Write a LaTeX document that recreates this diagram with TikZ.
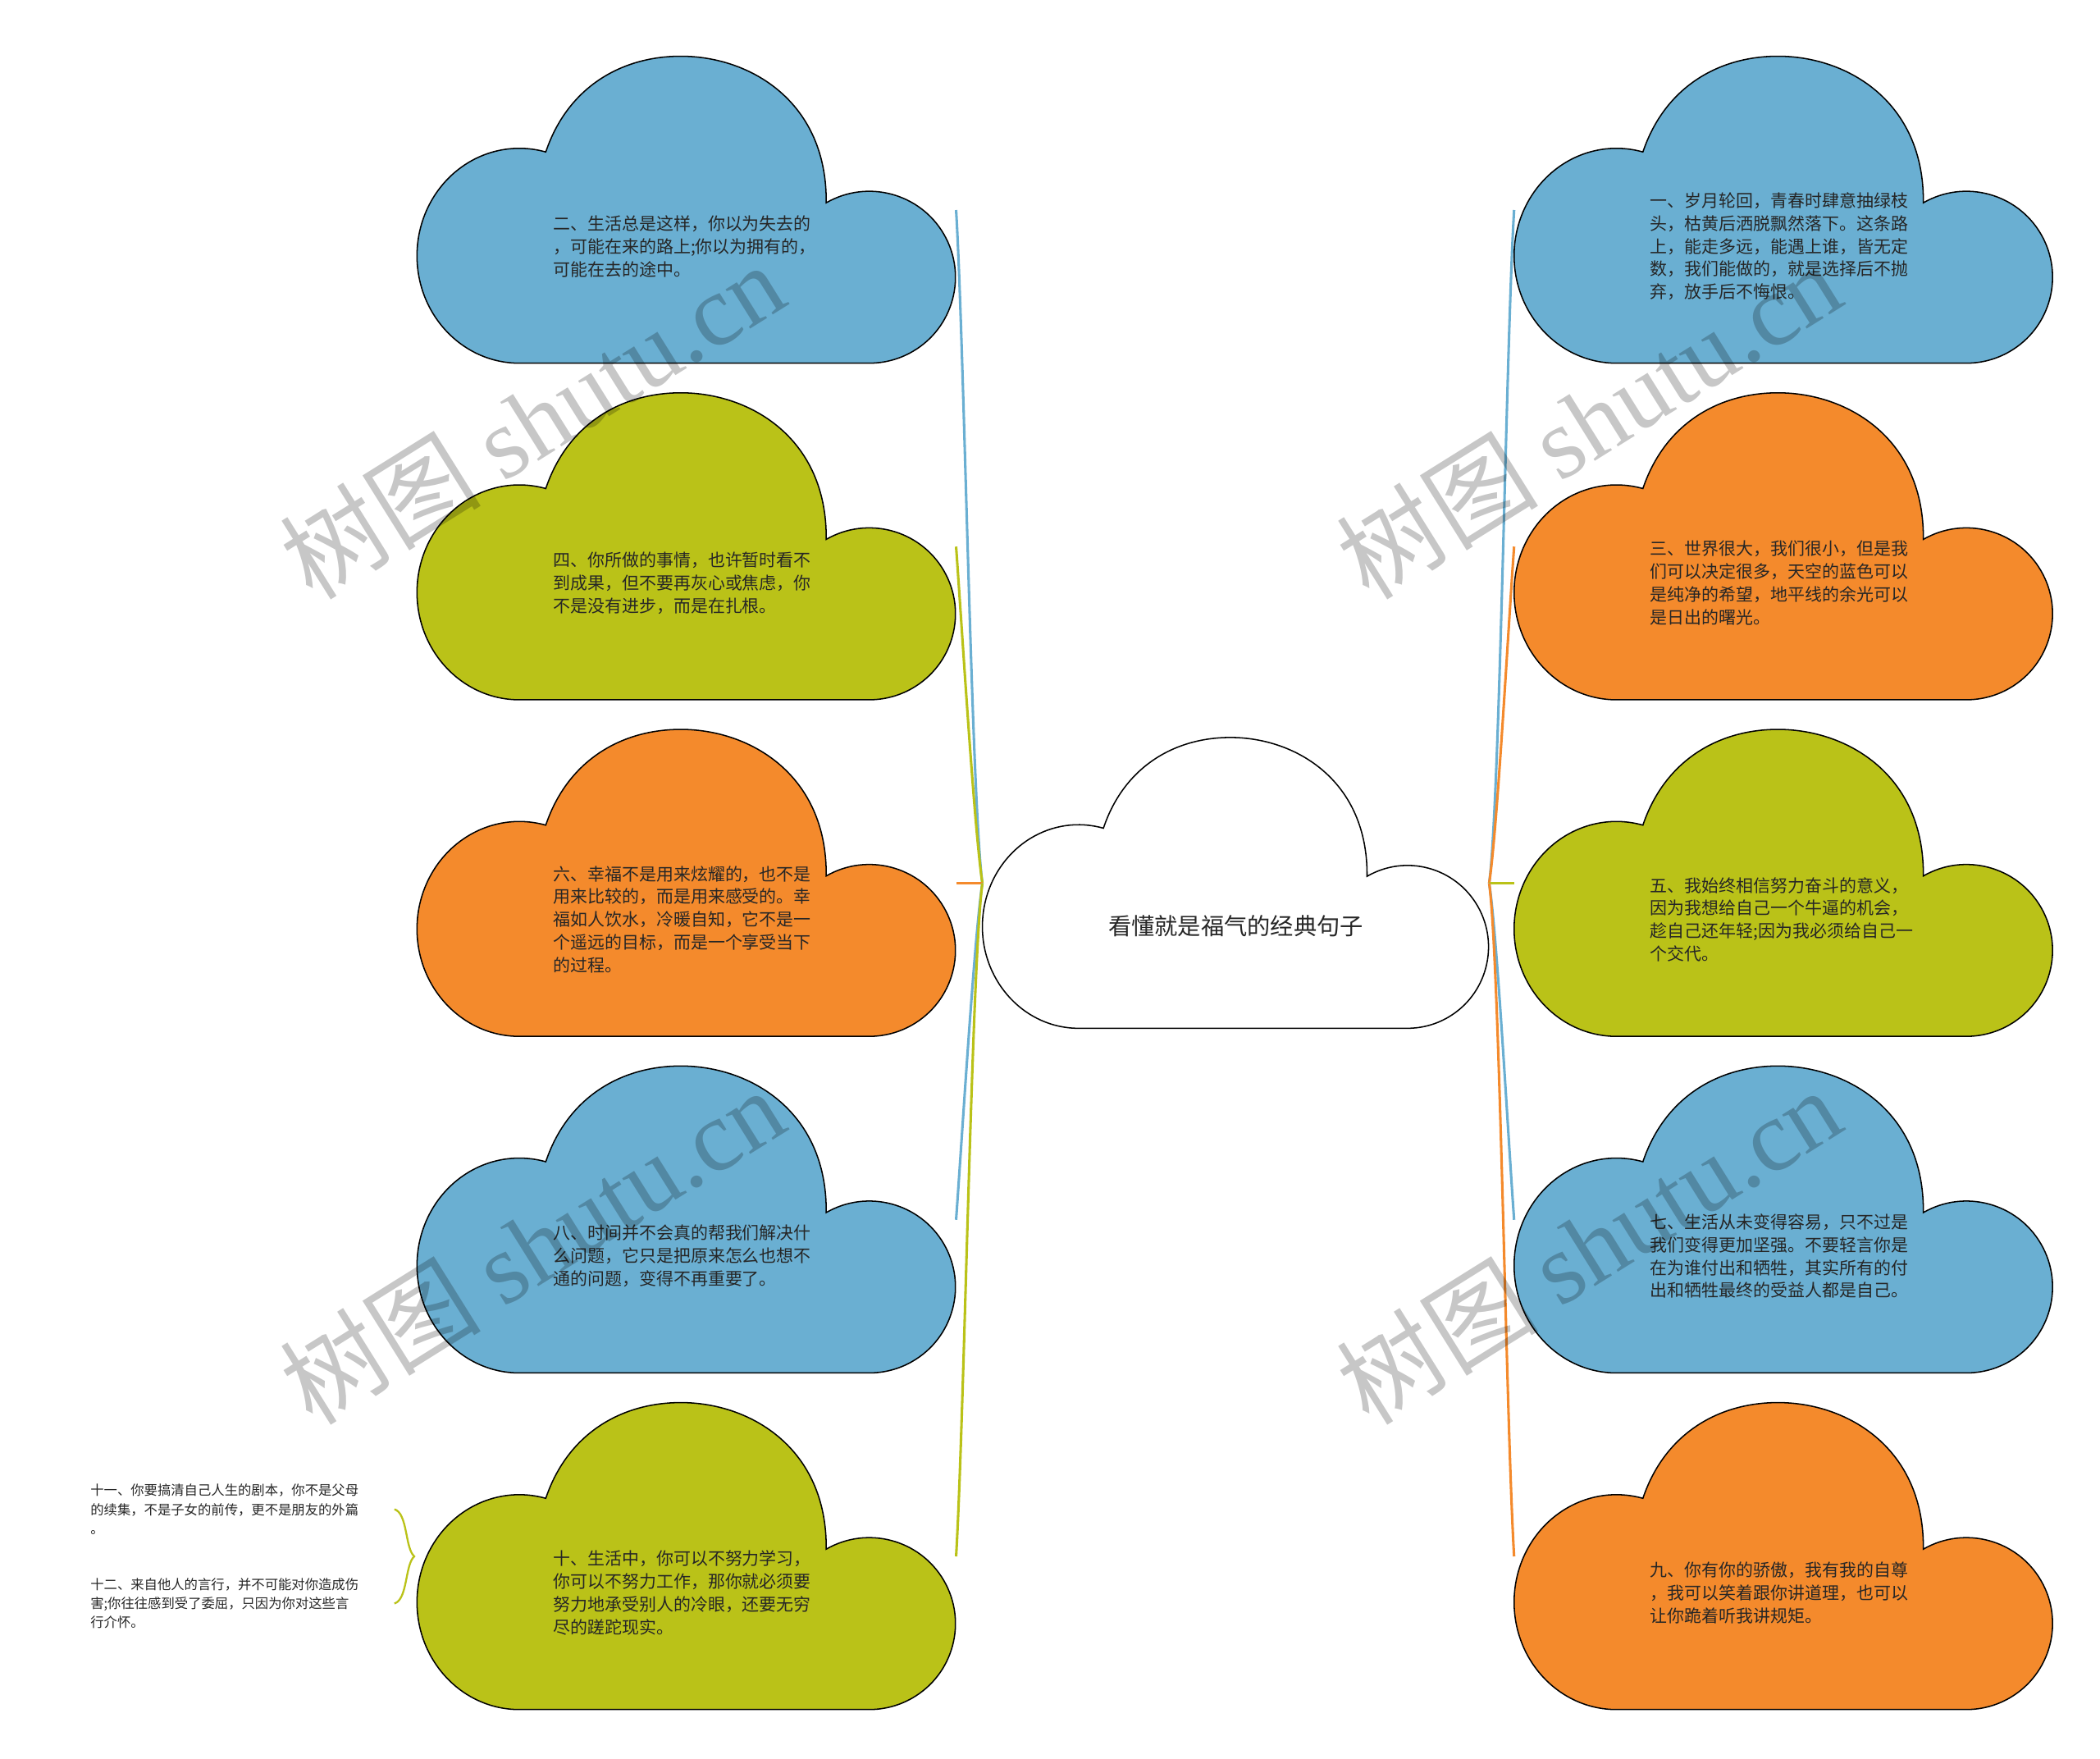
\documentclass[tikz,border=0pt]{standalone}
\usepackage{fontspec}
\setmainfont{Noto Sans CJK SC}
\newfontfamily\wmserif{Liberation Serif}
\usetikzlibrary{calc, positioning}

\definecolor{cblue}{RGB}{106,175,210}
\definecolor{cgreen}{RGB}{186,194,24}
\definecolor{corange}{RGB}{244,138,44}

% cloud outline in a unit box, origin at the top left corner
\tikzset{
  cloud/.pic={
    \path[pic actions] (0.19,1) arc[start angle=90, end angle=285, x radius=0.19, y radius=0.35]
      .. controls (0.28,0.10) and (0.38,0) .. (0.49,0)
      .. controls (0.62,0) and (0.762,0.15) .. (0.76,0.4775)
      arc[start angle=240, end angle=450, x radius=0.16, y radius=0.28] -- cycle;
  }
}

\begin{document}
\begin{tikzpicture}[x=0.03cm, y=-0.03cm,
  leafbox/.style={minimum width=12cm, minimum height=6.84cm, inner sep=0},
  leaftext/.style={anchor=west, align=left, inner sep=0, font=\fontsize{10.9}{14.5}\selectfont, text=black!85},
  sidetext/.style={anchor=west, align=left, inner sep=0, font=\fontsize{8.5}{12}\selectfont, text=black!85},
  link/.style={line width=1.6pt},
  watermark/.style={rotate=32, text=black, text opacity=0.22, font=\fontsize{64}{64}\selectfont}]

        \useasboundingbox (0,0) rectangle (1560,1306.5);

        % the central cloud
        \node[minimum width=11.28cm, minimum height=6.48cm, inner sep=0] (root) at (918,656) {};
        \pic[draw=black, fill=white, line width=0.8pt, xscale=376, yscale=216] at (root.north west) {cloud};
        \node[font=\fontsize{14.7}{16}\selectfont, text=black!85] (title) at (918,688) {看懂就是福气的经典句子};

        % left column
	\foreach \n/\y/\col/\txt in {
		2/156/cblue/{二、生活总是这样，你以为失去的\\，可能在来的路上;你以为拥有的，\\可能在去的途中。},
		4/406/cgreen/{四、你所做的事情，也许暂时看不\\到成果，但不要再灰心或焦虑，你\\不是没有进步，而是在扎根。},
		6/656/corange/{六、幸福不是用来炫耀的，也不是\\用来比较的，而是用来感受的。幸\\福如人饮水，冷暖自知，它不是一\\个遥远的目标，而是一个享受当下\\的过程。},
		8/906/cblue/{八、时间并不会真的帮我们解决什\\么问题，它只是把原来怎么也想不\\通的问题，变得不再重要了。},
		10/1156/cgreen/{十、生活中，你可以不努力学习，\\你可以不努力工作，那你就必须要\\努力地承受别人的冷眼，还要无穷\\尽的蹉跎现实。}}
	{
		\node[leafbox] (c\n) at (510,\y) {};
		\pic[draw=black, fill=\col, line width=0.8pt, xscale=400, yscale=228] at (c\n.north west) {cloud};
		\node[leaftext] (t\n) at ($(c\n.west)+(101,27)$) {\txt};
	}

        % right column
	\foreach \n/\y/\col/\txt in {
		1/156/cblue/{一、岁月轮回，青春时肆意抽绿枝\\头，枯黄后洒脱飘然落下。这条路\\上，能走多远，能遇上谁，皆无定\\数，我们能做的，就是选择后不抛\\弃，放手后不悔恨。},
		3/406/corange/{三、世界很大，我们很小，但是我\\们可以决定很多，天空的蓝色可以\\是纯净的希望，地平线的余光可以\\是日出的曙光。},
		5/656/cgreen/{五、我始终相信努力奋斗的意义，\\因为我想给自己一个牛逼的机会，\\趁自己还年轻;因为我必须给自己一\\个交代。},
		7/906/cblue/{七、生活从未变得容易，只不过是\\我们变得更加坚强。不要轻言你是\\在为谁付出和牺牲，其实所有的付\\出和牺牲最终的受益人都是自己。},
		9/1156/corange/{九、你有你的骄傲，我有我的自尊\\，我可以笑着跟你讲道理，也可以\\让你跪着听我讲规矩。}}
	{
		\node[leafbox] (c\n) at (1325,\y) {};
		\pic[draw=black, fill=\col, line width=0.8pt, xscale=400, yscale=228] at (c\n.north west) {cloud};
		\node[leaftext] (t\n) at ($(c\n.west)+(101,27)$) {\txt};
	}

        % connectors
	\draw[link, cblue] (root.west) .. controls +(-8,-60) and +(6,100) .. (c2.east);
	\draw[link, cgreen] (root.west) .. controls +(-6,-40) and +(5,70) .. (c4.east);
	\draw[link, corange] (root.west) -- (c6.east);
	\draw[link, cblue] (root.west) .. controls +(-6,40) and +(5,-70) .. (c8.east);
	\draw[link, cgreen] (root.west) .. controls +(-8,60) and +(6,-100) .. (c10.east);

	\draw[link, cblue] (root.east) .. controls +(8,-60) and +(-6,100) .. (c1.west);
	\draw[link, corange] (root.east) .. controls +(6,-40) and +(-5,70) .. (c3.west);
	\draw[link, cgreen] (root.east) -- (c5.west);
	\draw[link, cblue] (root.east) .. controls +(6,40) and +(-5,-70) .. (c7.west);
	\draw[link, corange] (root.east) .. controls +(8,60) and +(-6,-100) .. (c9.west);

        % two notes hanging off the last cloud
	\node[sidetext] (t11) at (67,1121) {十一、你要搞清自己人生的剧本，你不是父母\\的续集，不是子女的前传，更不是朋友的外篇\\。};
	\node[sidetext] (t12) at (67,1191) {十二、来自他人的言行，并不可能对你造成伤\\害;你往往感到受了委屈，只因为你对这些言\\行介怀。};
	\coordinate (brace) at (293,0);
	\draw[cgreen, line width=1.2pt] (t11 -| brace) .. controls +(10,3) and +(-7,-6) .. ($(c10.west)+(-2,0)$)
		.. controls +(-7,6) and +(10,-3) .. (t12 -| brace);

        % watermarks
	\foreach \wx/\wy in {395/312, 1180/312, 395/925, 1180/925}
		\node[watermark] (wm\wx-\wy) at (\wx,\wy) {树图 {\wmserif shutu.cn}};

\end{tikzpicture}
\end{document}
